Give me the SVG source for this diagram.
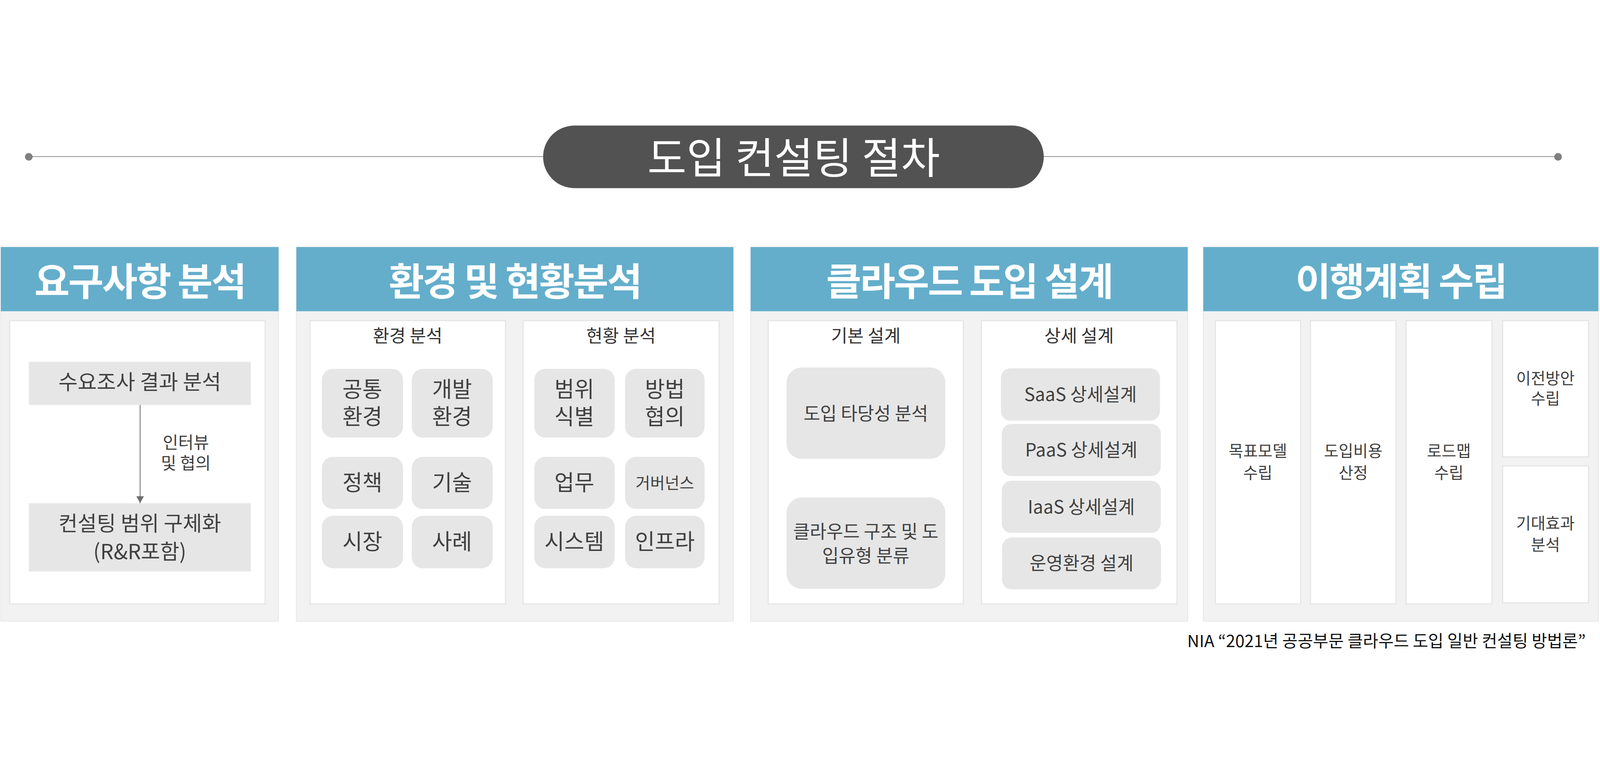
<svg xmlns="http://www.w3.org/2000/svg" width="5836" height="1991" viewBox="0 0 5836 1991">
<defs>
<style>
svg{width:100vw;height:100vh}
text{font-family:"Noto Sans CJK KR","Noto Sans",sans-serif;text-anchor:middle}
.title{font-size:155px;fill:#ffffff;font-weight:400}
.hdr{font-size:140px;fill:#ffffff;font-weight:700;letter-spacing:-5px}
.hband{fill:#64aecb}
.body{fill:#f2f2f2;stroke:#e8e8e8;stroke-width:3}
.inner{fill:#ffffff;stroke:#e5e5e5;stroke-width:4}
.sub{font-size:65px;fill:#333333}
.dbox{fill:#e6e6e6;stroke:#f5f5f5;stroke-width:3;stroke-dasharray:9 5}
.rbox{fill:#e6e6e6}
.t76{font-size:76px;fill:#404040}
.t74{font-size:79px;fill:#404040}
.t66{font-size:66px;fill:#404040}
.t57{font-size:58px;fill:#404040}
.lbl{font-size:61px;fill:#404040}
.foot{font-size:61px;fill:#111111;text-anchor:end}
</style>
<marker id="arr" viewBox="0 0 26 28" refX="26" refY="14" markerUnits="userSpaceOnUse" markerWidth="26" markerHeight="28" orient="auto">
<path d="M0,0 L26,14 L0,28 Z" fill="#6e6e6e"/>
</marker>
</defs>
<rect width="5836" height="1991" fill="#ffffff"/>

<g id="title">
<line x1="105" y1="148" x2="1990" y2="148" stroke="#808080" stroke-width="2.5"/>
<line x1="3800" y1="148" x2="5683" y2="148" stroke="#808080" stroke-width="2.5"/>
<circle cx="105" cy="149" r="14" fill="#808080"/>
<circle cx="5683" cy="149" r="14" fill="#808080"/>
<rect x="1981" y="35" width="1826" height="228" rx="114" fill="#525252"/>
<text class="title" x="2895" y="210">도입 컨설팅 절차</text>
</g>

<g id="panel-requirements">
<rect class="body" x="3" y="478" width="1013" height="1364"/>
<rect class="hband" x="3" y="478" width="1013" height="234"/>
<text class="hdr" x="510" y="654">요구사항 분석</text>
<rect class="inner" x="35" y="746" width="932" height="1033"/>
</g>
<g id="node-survey">
<rect class="dbox" x="105" y="896" width="810" height="158"/>
<text class="t76" x="510" y="998">수요조사 결과 분석</text>
</g>
<g id="node-scope">
<rect class="dbox" x="105" y="1412" width="810" height="249"/>
<text class="t76" x="510" y="1514">컨설팅 범위 구체화</text>
<text class="t76" x="510" y="1616">(R&amp;R포함)</text>
</g>

<g id="panel-environment">
<rect class="body" x="1081" y="478" width="1594" height="1364"/>
<rect class="hband" x="1081" y="478" width="1594" height="234"/>
<text class="hdr" x="1878" y="654">환경 및 현황분석</text>
<rect class="inner" x="1131" y="746" width="713" height="1033"/>
<rect class="inner" x="1908" y="746" width="715" height="1033"/>
<text class="sub" x="1487" y="825">환경 분석</text>
<text class="sub" x="2265" y="825">현황 분석</text>
</g>
<g id="node-common-env"><rect class="rbox" x="1174" y="922" width="296" height="251" rx="40"/><text class="t74" x="1322" y="1025">공통</text><text class="t74" x="1322" y="1124">환경</text></g>
<g id="node-dev-env"><rect class="rbox" x="1502" y="922" width="295" height="251" rx="40"/><text class="t74" x="1649" y="1025">개발</text><text class="t74" x="1649" y="1124">환경</text></g>
<g id="node-policy"><rect class="rbox" x="1174" y="1243" width="296" height="190" rx="40"/><text class="t74" x="1322" y="1365">정책</text></g>
<g id="node-tech"><rect class="rbox" x="1502" y="1243" width="295" height="190" rx="40"/><text class="t74" x="1649" y="1365">기술</text></g>
<g id="node-market"><rect class="rbox" x="1174" y="1458" width="296" height="191" rx="40"/><text class="t74" x="1322" y="1580">시장</text></g>
<g id="node-cases"><rect class="rbox" x="1502" y="1458" width="295" height="191" rx="40"/><text class="t74" x="1649" y="1580">사례</text></g>
<g id="node-scope-id"><rect class="rbox" x="1949" y="922" width="293" height="251" rx="40"/><text class="t74" x="2095" y="1025">범위</text><text class="t74" x="2095" y="1124">식별</text></g>
<g id="node-method"><rect class="rbox" x="2280" y="922" width="290" height="251" rx="40"/><text class="t74" x="2425" y="1025">방법</text><text class="t74" x="2425" y="1124">협의</text></g>
<g id="node-business"><rect class="rbox" x="1949" y="1243" width="293" height="190" rx="40"/><text class="t74" x="2095" y="1365">업무</text></g>
<g id="node-governance"><rect class="rbox" x="2280" y="1243" width="290" height="190" rx="40"/><text class="t57" x="2425" y="1359">거버넌스</text></g>
<g id="node-system"><rect class="rbox" x="1949" y="1458" width="293" height="191" rx="40"/><text class="t74" x="2095" y="1580">시스템</text></g>
<g id="node-infra"><rect class="rbox" x="2280" y="1458" width="290" height="191" rx="40"/><text class="t74" x="2425" y="1580">인프라</text></g>

<g id="panel-design">
<rect class="body" x="2738" y="478" width="1594" height="1364"/>
<rect class="hband" x="2738" y="478" width="1594" height="234"/>
<text class="hdr" x="3535" y="654">클라우드 도입 설계</text>
<rect class="inner" x="2802" y="746" width="712" height="1033"/>
<rect class="inner" x="3580" y="746" width="713" height="1033"/>
<text class="sub" x="3158" y="825">기본 설계</text>
<text class="sub" x="3936" y="825">상세 설계</text>
</g>
<g id="node-feasibility"><rect class="rbox" x="2869" y="917" width="579" height="333" rx="55"/><text class="t66" x="3158" y="1109">도입 타당성 분석</text></g>
<g id="node-structure"><rect class="rbox" x="2869" y="1391" width="579" height="333" rx="55"/><text class="t66" x="3158" y="1539">클라우드 구조 및 도</text><text class="t66" x="3158" y="1627">입유형 분류</text></g>
<g id="node-saas"><rect class="rbox" x="3651" y="920" width="580" height="191" rx="35"/><text class="t66" x="3941" y="1039">SaaS 상세설계</text></g>
<g id="node-paas"><rect class="rbox" x="3654" y="1123" width="580" height="190" rx="35"/><text class="t66" x="3944" y="1242">PaaS 상세설계</text></g>
<g id="node-iaas"><rect class="rbox" x="3654" y="1330" width="580" height="190" rx="35"/><text class="t66" x="3944" y="1449">IaaS 상세설계</text></g>
<g id="node-ops"><rect class="rbox" x="3655" y="1537" width="580" height="189" rx="35"/><text class="t66" x="3945" y="1655">운영환경 설계</text></g>

<g id="panel-plan">
<rect class="body" x="4389" y="478" width="1441" height="1364"/>
<rect class="hband" x="4389" y="478" width="1441" height="234"/>
<text class="hdr" x="5110" y="654">이행계획 수립</text>
</g>
<g id="node-target"><rect class="inner" x="4433" y="746" width="311" height="1033"/><text class="t57" x="4588" y="1243">목표모델</text><text class="t57" x="4588" y="1322">수립</text></g>
<g id="node-cost"><rect class="inner" x="4780" y="746" width="312" height="1033"/><text class="t57" x="4936" y="1243">도입비용</text><text class="t57" x="4936" y="1322">산정</text></g>
<g id="node-roadmap"><rect class="inner" x="5129" y="746" width="313" height="1033"/><text class="t57" x="5285" y="1243">로드맵</text><text class="t57" x="5285" y="1322">수립</text></g>
<g id="node-migration"><rect class="inner" x="5481" y="746" width="313" height="497"/><text class="t57" x="5637" y="978">이전방안</text><text class="t57" x="5637" y="1052">수립</text></g>
<g id="node-benefit"><rect class="inner" x="5481" y="1276" width="313" height="499"/><text class="t57" x="5637" y="1507">기대효과</text><text class="t57" x="5637" y="1584">분석</text></g>

<g id="connectors">
<line x1="511" y1="1054" x2="511" y2="1412" stroke="#6e6e6e" stroke-width="3" marker-end="url(#arr)"/>
<text class="lbl" x="678" y="1213">인터뷰</text>
<text class="lbl" x="678" y="1289">및 협의</text>
</g>

<text class="foot" x="5784" y="1937">NIA “2021년 공공부문 클라우드 도입 일반 컨설팅 방법론”</text>
</svg>
